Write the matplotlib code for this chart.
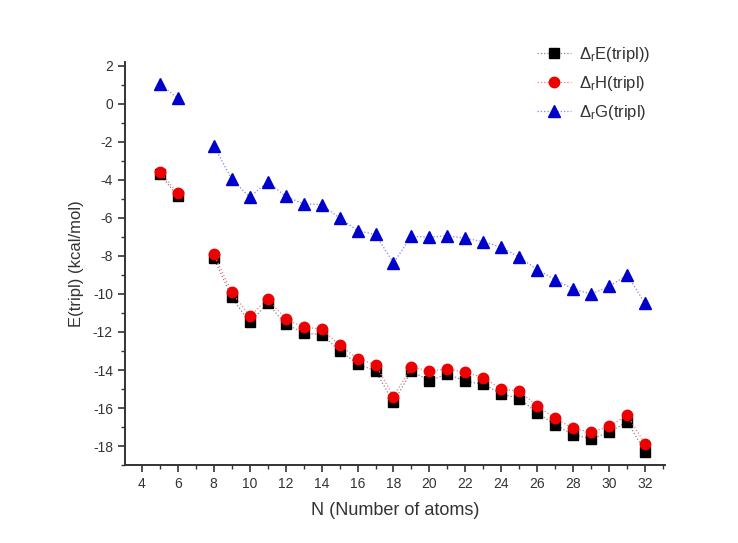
import matplotlib
matplotlib.use("Agg")
import matplotlib.pyplot as plt
from matplotlib.ticker import MultipleLocator

plt.rcParams['font.family'] = ['Liberation Sans', 'DejaVu Sans']
plt.rcParams['mathtext.fontset'] = 'custom'
plt.rcParams['mathtext.rm'] = 'Liberation Sans'
plt.rcParams['mathtext.it'] = 'Liberation Sans'
plt.rcParams['axes.unicode_minus'] = False

N = [5, 6, 8, 9, 10, 11, 12, 13, 14, 15, 16, 17, 18, 19, 20, 21, 22, 23, 24,
     25, 26, 27, 28, 29, 30, 31, 32]
dE = [-3.68, -4.86, -8.1, -10.17, -11.5, -10.5, -11.58, -12.05, -12.14, -12.98,
      -13.68, -14.05, -15.7, -14.07, -14.56, -14.2, -14.6, -14.74, -15.26,
      -15.5, -16.26, -16.88, -17.4, -17.63, -17.28, -16.72, -18.3]
dH = [-3.56, -4.7, -7.9, -9.9, -11.18, -10.26, -11.3, -11.75, -11.84, -12.68,
      -13.4, -13.72, -15.4, -13.86, -14.04, -13.95, -14.12, -14.4, -15.0,
      -15.1, -15.9, -16.55, -17.07, -17.28, -16.97, -16.37, -17.9]
dG = [1.05, 0.3, -2.2, -3.95, -4.9, -4.1, -4.86, -5.26, -5.3, -6.0,
      -6.67, -6.87, -8.37, -6.96, -7.02, -6.93, -7.07, -7.25, -7.54,
      -8.07, -8.72, -9.25, -9.74, -10.0, -9.6, -9.0, -10.5]

labels = [r'$\Delta_{r}$E(tripl))', r'$\Delta_{r}$H(tripl)', r'$\Delta_{r}$G(tripl)']

fig = plt.figure(figsize=(7.38, 5.43), dpi=100)
ax = fig.add_axes([0.169, 0.1436, 0.732, 0.742])

styles = [
    dict(color='#888888', marker='s', markersize=6.5, markerfacecolor='black', markeredgecolor='black'),
    dict(color='#f08080', marker='o', markersize=7.5, markerfacecolor='#ee0000', markeredgecolor='#ee0000'),
    dict(color='#8080f0', marker='^', markersize=8.5, markerfacecolor='#0000cc', markeredgecolor='#0000cc'),
]

# line is broken where N jumps (no N=7 value)
for ys, st, lab in zip([dE, dH, dG], styles, labels):
    start = 0
    for i in range(1, len(N) + 1):
        if i == len(N) or N[i] - N[i - 1] > 1:
            ax.plot(N[start:i], ys[start:i], linestyle=':', linewidth=0.9,
                    label=lab if start == 0 else None, **st)
            start = i

ax.set_xlim(3.05, 33.1)
ax.set_ylim(-19, 2.2)
ax.xaxis.set_major_locator(MultipleLocator(2))
ax.xaxis.set_minor_locator(MultipleLocator(1))
ax.yaxis.set_major_locator(MultipleLocator(2))
ax.yaxis.set_minor_locator(MultipleLocator(1))
for s in ['top', 'right']:
    ax.spines[s].set_visible(False)
for s in ['left', 'bottom']:
    ax.spines[s].set_linewidth(1.4)
    ax.spines[s].set_color('#333333')
ax.tick_params(which='major', direction='out', length=5, width=1.2, labelsize=10, colors='#333333')
ax.tick_params(which='minor', direction='out', length=3, width=1.0, colors='#333333')

ax.set_xlabel('N (Number of atoms)', fontsize=13, color='#333333', labelpad=8)
ax.set_ylabel('E(tripl) (kcal/mol)', fontsize=12, color='#333333', labelpad=6)

leg = ax.legend(loc='upper right', bbox_to_anchor=(1.0, 1.08), frameon=False,
                fontsize=12, handlelength=2.0, handletextpad=0.5, labelspacing=0.6)
for t in leg.get_texts():
    t.set_color('#333333')

fig.savefig('out.png', dpi=100)
